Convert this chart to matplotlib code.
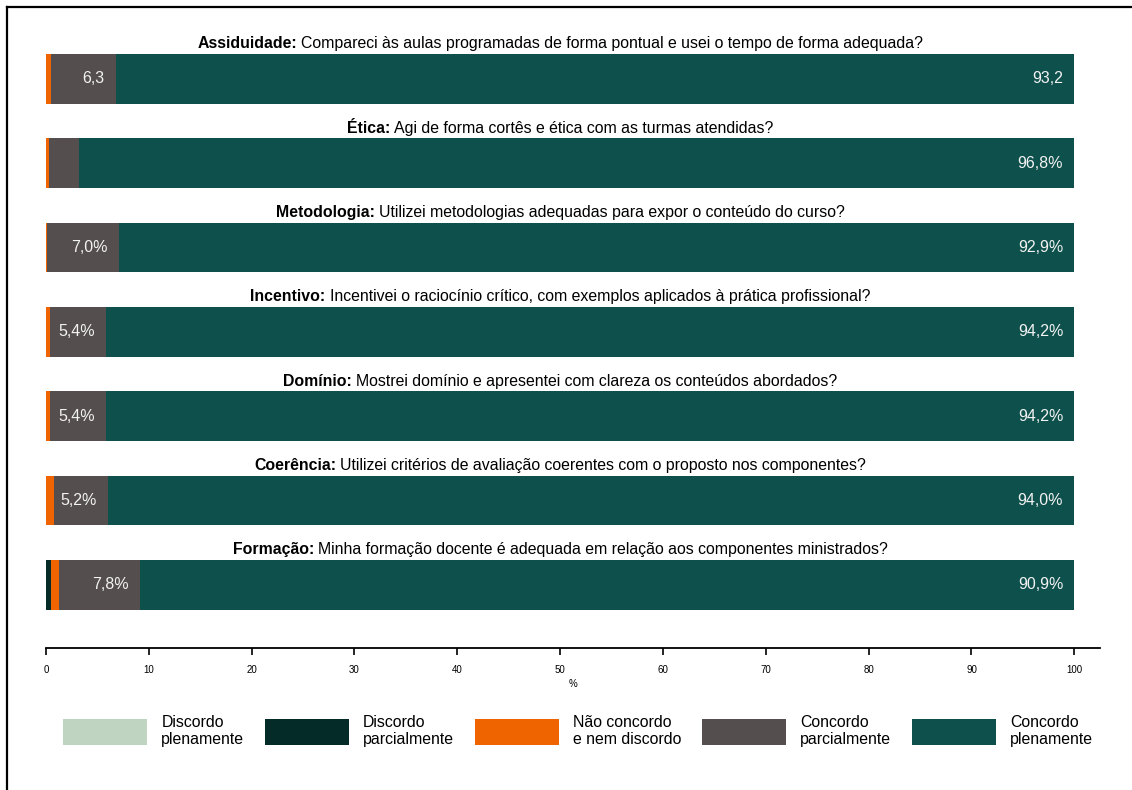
import matplotlib
matplotlib.use("Agg")
import matplotlib.pyplot as plt
import numpy as np
from matplotlib.lines import Line2D
from matplotlib.offsetbox import AnnotationBbox, HPacker, TextArea
from matplotlib.patches import Patch

plt.rcParams['font.family'] = ['Liberation Sans', 'DejaVu Sans']

# categories / legend
categories = ["Discordo\nplenamente", "Discordo\nparcialmente", "Não concordo\ne nem discordo",
              "Concordo\nparcialmente", "Concordo\nplenamente"]
colors = ["#bfd5c2", "#052b29", "#f06400", "#544f4e", "#0e514c"]

topics = ["Assiduidade:", "Ética:", "Metodologia:", "Incentivo:", "Domínio:", "Coerência:", "Formação:"]
questions = [
    "Compareci às aulas programadas de forma pontual e usei o tempo de forma adequada?",
    "Agi de forma cortês e ética com as turmas atendidas?",
    "Utilizei metodologias adequadas para expor o conteúdo do curso?",
    "Incentivei o raciocínio crítico, com exemplos aplicados à prática profissional?",
    "Mostrei domínio e apresentei com clareza os conteúdos abordados?",
    "Utilizei critérios de avaliação coerentes com o proposto nos componentes?",
    "Minha formação docente é adequada em relação aos componentes ministrados?",
]

# values (%)
disc_plen = [0.0, 0.0, 0.0, 0.0, 0.0, 0.0, 0.0]
disc_parc = [0.0, 0.0, 0.0, 0.0, 0.0, 0.0, 0.5]
neutro = [0.5, 0.3, 0.1, 0.4, 0.4, 0.8, 0.8]
conc_parc = [6.3, 2.9, 7.0, 5.4, 5.4, 5.2, 7.8]
conc_plen = [93.2, 96.8, 92.9, 94.2, 94.2, 94.0, 90.9]
suffix = ["", "%", "%", "%", "%", "%", "%"]

series = [disc_plen, disc_parc, neutro, conc_parc, conc_plen]

fig = plt.figure(figsize=(11.32, 7.9), dpi=100)
W, H = 1132, 790
ax = fig.add_axes([46 / W, (H - 648) / H, (1100 - 46) / W, (648 - 28) / H])

y = np.arange(len(topics))
bar_h = 0.59
left = np.zeros(len(topics))
for vals, col in zip(series, colors):
    ax.barh(y, vals, left=left, height=bar_h, color=col, linewidth=0)
    left += np.array(vals)


def fmt(v, s):
    return f"{v:.1f}".replace(".", ",") + s


ends_parc = np.array(disc_plen) + np.array(disc_parc) + np.array(neutro) + np.array(conc_parc)
for i in range(len(topics)):
    if conc_parc[i] >= 4:
        ax.annotate(fmt(conc_parc[i], suffix[i]), (ends_parc[i], y[i]), xytext=(-8, 0),
                    textcoords='offset points', ha='right', va='center',
                    color='#f2f2f2', fontsize=11.5)
    ax.annotate(fmt(conc_plen[i], suffix[i]), (left[i], y[i]), xytext=(-8, 0),
                textcoords='offset points', ha='right', va='center',
                color='#f2f2f2', fontsize=11.5)
    # title: bold topic + question
    box = HPacker(children=[
        TextArea(topics[i], textprops=dict(fontweight='bold', fontsize=11.4, color='black')),
        TextArea(questions[i], textprops=dict(fontsize=11.4, color='black')),
    ], align='baseline', pad=0, sep=3)
    ab = AnnotationBbox(box, (50, y[i] - bar_h / 2 - 0.12), frameon=False,
                        box_alignment=(0.5, 0.5), pad=0, annotation_clip=False)
    ax.add_artist(ab)

ax.set_xlim(0, 102.5)
ax.set_ylim(len(topics) - 1 + 0.747, -0.6)
ax.set_xticks(np.arange(0, 101, 10))
ax.tick_params(axis='x', labelsize=7, length=5, width=1.2, direction='out', pad=7)
ax.set_yticks([])
for s in ['top', 'left', 'right']:
    ax.spines[s].set_visible(False)
ax.spines['bottom'].set_linewidth(1.3)
ax.set_xlabel('%', fontsize=7, labelpad=3)

handles = [Patch(facecolor=c, edgecolor='none') for c in colors]
fig.legend(handles, categories, loc='center', bbox_to_anchor=(578 / W, (H - 731) / H),
           ncol=5, frameon=False, fontsize=11.4, handlelength=5.3, handleheight=2.2,
           handletextpad=0.9, columnspacing=1.3, labelspacing=0.3)

# frame lines (top and left)
fig.add_artist(Line2D([7 / W, 1], [1 - 7 / H, 1 - 7 / H], color='black', linewidth=1.6,
                      transform=fig.transFigure))
fig.add_artist(Line2D([7 / W, 7 / W], [0, 1 - 7 / H], color='black', linewidth=1.6,
                      transform=fig.transFigure))

fig.savefig("out.png", dpi=100)
